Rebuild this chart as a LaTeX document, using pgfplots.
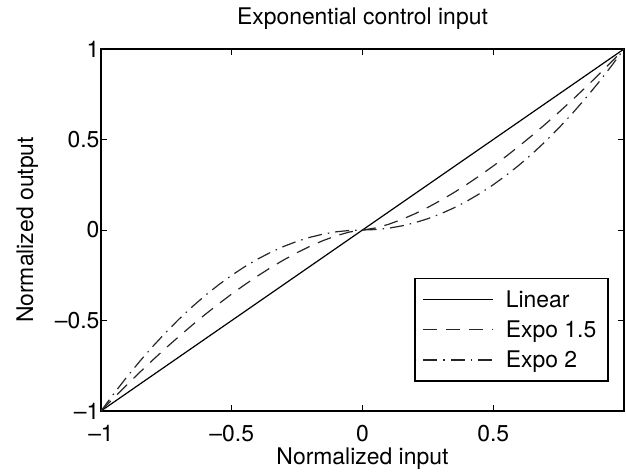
\documentclass[border=0pt]{standalone}
\usepackage{fontspec}
\setmainfont{TeX Gyre Heros}
\usepackage{pgfplots}
\pgfplotsset{compat=1.18}
\usepackage{pgfplotstable}

% normalized input / output
\pgfplotstableread{
x      lin    e15      e2
-1.00 -1.00  -1.00000 -1.0000
-0.95 -0.95  -0.92596 -0.9025
-0.90 -0.90  -0.85381 -0.8100
-0.85 -0.85  -0.78367 -0.7225
-0.80 -0.80  -0.71554 -0.6400
-0.75 -0.75  -0.64952 -0.5625
-0.70 -0.70  -0.58566 -0.4900
-0.65 -0.65  -0.52405 -0.4225
-0.60 -0.60  -0.46476 -0.3600
-0.55 -0.55  -0.40789 -0.3025
-0.50 -0.50  -0.35355 -0.2500
-0.45 -0.45  -0.30187 -0.2025
-0.40 -0.40  -0.25298 -0.1600
-0.35 -0.35  -0.20706 -0.1225
-0.30 -0.30  -0.16432 -0.0900
-0.25 -0.25  -0.12500 -0.0625
-0.20 -0.20  -0.08944 -0.0400
-0.15 -0.15  -0.05809 -0.0225
-0.10 -0.10  -0.03162 -0.0100
-0.05 -0.05  -0.01118 -0.0025
 0.00  0.00   0.00000  0.0000
 0.05  0.05   0.01118  0.0025
 0.10  0.10   0.03162  0.0100
 0.15  0.15   0.05809  0.0225
 0.20  0.20   0.08944  0.0400
 0.25  0.25   0.12500  0.0625
 0.30  0.30   0.16432  0.0900
 0.35  0.35   0.20706  0.1225
 0.40  0.40   0.25298  0.1600
 0.45  0.45   0.30187  0.2025
 0.50  0.50   0.35355  0.2500
 0.55  0.55   0.40789  0.3025
 0.60  0.60   0.46476  0.3600
 0.65  0.65   0.52405  0.4225
 0.70  0.70   0.58566  0.4900
 0.75  0.75   0.64952  0.5625
 0.80  0.80   0.71554  0.6400
 0.85  0.85   0.78367  0.7225
 0.90  0.90   0.85381  0.8100
 0.95  0.95   0.92596  0.9025
 1.00  1.00   1.00000  1.0000
}\curves

\begin{document}
\begin{tikzpicture}[font=\fontsize{23}{27}\selectfont]
\begin{axis}[
    scale only axis,
    width=523bp, height=362bp,
    xmin=-1, xmax=1, ymin=-1, ymax=1,
    xtick={-1,-0.5,0,0.5,1},
    xticklabels={–1,–0.5,0,0.5,{}},
    ytick={-1,-0.5,0,0.5,1},
    yticklabels={–1,–0.5,0,0.5,1},
    tick align=inside,
    major tick length=6bp,
    axis line style={line width=2.2bp},
    tick style={line width=0.9bp, black},
    xticklabel style={anchor=base, yshift=-30bp},
    yticklabel style={xshift=2bp},
    title={Exponential control input},
    title style={at={(axis description cs:0.5,1.0525)}, anchor=base},
    xlabel={Normalized input},
    xlabel style={at={(axis description cs:0.5,-0.149)}, anchor=base},
    ylabel={Normalized output},
    ylabel style={at={(axis description cs:-0.130,0.5)}, anchor=base},
    legend cell align=left,
    legend image code/.code={\draw[#1] (4bp,0bp) -- (74bp,0bp); \path (82bp,0bp);},
    legend style={at={(rel axis cs:0.598,0.080)}, anchor=south west,
        draw=black, line width=1.8bp, fill=white,
        inner xsep=8bp, inner ysep=10bp, row sep=8bp,
        font=\fontsize{23}{27}\selectfont,
        nodes={inner xsep=4bp}},
]
\addplot[black, line width=1.2bp] table[x=x, y=lin] {\curves};
\addlegendentry{Linear}
\addplot[black!85, line width=1.2bp, dash pattern=on 14bp off 9bp] table[x=x, y=e15] {\curves};
\addlegendentry{Expo 1.5}
\addplot[black!85, line width=1.2bp, dash pattern=on 14bp off 6bp on 1.5bp off 6bp] table[x=x, y=e2] {\curves};
\addlegendentry{Expo 2}
\coordinate (bl) at (rel axis cs:0,0);
\coordinate (tr) at (rel axis cs:1,1);
\end{axis}
\pgfresetboundingbox
\path ([shift={(-101bp,-62bp)}]bl) rectangle ([shift={(2bp,49bp)}]tr);
\end{tikzpicture}
\end{document}
